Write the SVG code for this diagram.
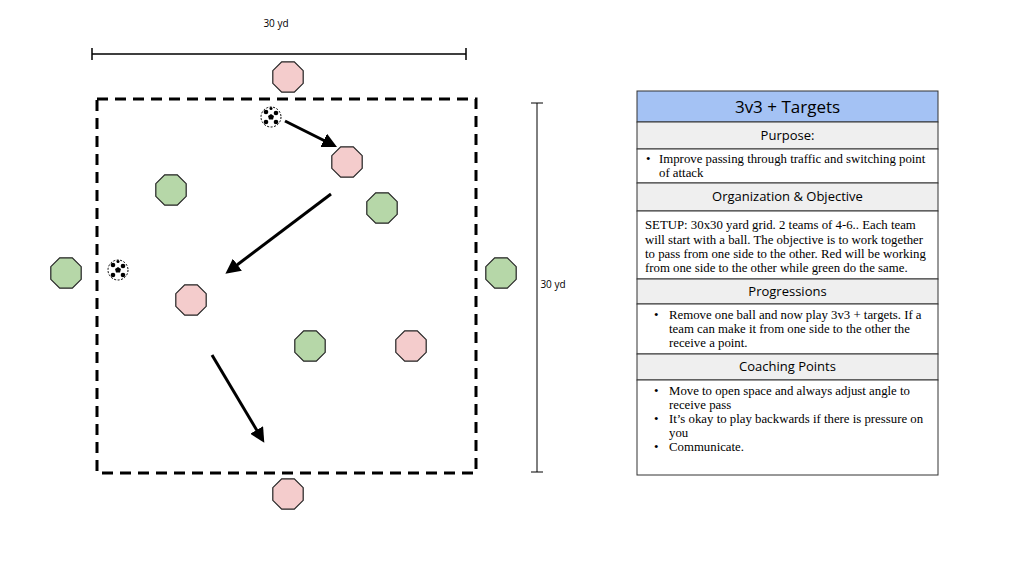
<svg xmlns="http://www.w3.org/2000/svg" xmlns:xlink="http://www.w3.org/1999/xlink" width="1024" height="576" viewBox="0 0 1024 576">
<style>
.r{fill:#f4cccc;stroke:#222;stroke-width:1.2}
.g{fill:#b6d7a8;stroke:#222;stroke-width:1.2}
.s{font-family:"Open Sans","Noto Sans",sans-serif;fill:#000}
.t{font-family:"Liberation Serif",serif;font-size:12.8px;fill:#000}
.h{fill:#efefef;stroke:#333;stroke-width:1}
.c{fill:#fff;stroke:#333;stroke-width:1}
.a{stroke:#000;stroke-width:3;fill:none;marker-end:url(#ah)}
</style>
<defs>
<polygon id="oct" points="-6.3,-15.2 6.3,-15.2 15.2,-6.3 15.2,6.3 6.3,15.2 -6.3,15.2 -15.2,6.3 -15.2,-6.3"/>
<marker id="ah" markerWidth="5" markerHeight="5" refX="3.5" refY="2.5" orient="auto"><path d="M0,0 L5,2.5 L0,5 Z" fill="#000"/></marker>
<g id="ball"><circle r="10" fill="#fff" stroke="#000" stroke-width="1" stroke-dasharray="2,1.5"/><polygon points="0,-3 3,-1 2,2.5 -2,2.5 -3,-1" fill="#000"/><circle cx="-5" cy="-5" r="2.3" fill="#000"/><circle cx="5" cy="-4" r="2.3" fill="#000"/><circle cx="5" cy="5" r="2.3" fill="#000"/><circle cx="-5" cy="5" r="2.3" fill="#000"/><circle cx="0" cy="-8.5" r="1.5" fill="#000"/></g>
</defs>
<rect width="1024" height="576" fill="#fff"/>
<g id="field"><rect x="97" y="99" width="379" height="374" fill="none" stroke="#000" stroke-width="3" stroke-dasharray="11,7"/></g>
<g id="dim-top"><path d="M92,54 H466 M92,48 V60 M466,48 V60" stroke="#000" stroke-width="1.5"/><text class="s" x="276" y="27" font-size="10" text-anchor="middle">30 yd</text></g>
<g id="dim-right"><path d="M537,103 V472 M531,103 H543 M531,472 H543" stroke="#000" stroke-width="1"/><text class="s" x="553" y="288" font-size="10" text-anchor="middle">30 yd</text></g>
<g id="players">
<use href="#oct" class="r" x="288" y="77"/>
<use href="#oct" class="r" x="347" y="162"/>
<use href="#oct" class="g" x="171" y="190"/>
<use href="#oct" class="g" x="382" y="208"/>
<use href="#oct" class="g" x="66" y="273"/>
<use href="#oct" class="g" x="501" y="273"/>
<use href="#oct" class="r" x="191" y="300"/>
<use href="#oct" class="g" x="310" y="346"/>
<use href="#oct" class="r" x="411" y="346"/>
<use href="#oct" class="r" x="288" y="494"/>
</g>
<g id="balls"><use href="#ball" x="271" y="117"/><use href="#ball" x="118" y="270"/></g>
<g id="connectors">
<path class="a" d="M285,121 L333,145"/>
<path class="a" d="M331,194 L229,271"/>
<path class="a" d="M212,355 L262,439"/>
</g>
<g id="panel">
<rect x="637" y="91" width="301" height="31" fill="#a4c2f4" stroke="#333"/>
<text class="s" x="787.5" y="113" font-size="17" text-anchor="middle">3v3 + Targets</text>
<rect class="h" x="637" y="122" width="301" height="27"/>
<text class="s" x="787.5" y="140" font-size="13" text-anchor="middle">Purpose:</text>
<rect class="c" x="637" y="149" width="301" height="34"/>
<text class="t"><tspan x="646" y="163">•</tspan><tspan x="659" y="163">Improve passing through traffic and switching point</tspan><tspan x="659" y="177">of attack</tspan></text>
<rect class="h" x="637" y="183" width="301" height="28"/>
<text class="s" x="787.5" y="201" font-size="13" text-anchor="middle">Organization &amp; Objective</text>
<rect class="c" x="637" y="211" width="301" height="68"/>
<text class="t"><tspan x="645" y="229">SETUP: 30x30 yard grid. 2 teams of 4-6.. Each team</tspan><tspan x="645" y="244">will start with a ball. The objective is to work together</tspan><tspan x="645" y="258">to pass from one side to the other. Red will be working</tspan><tspan x="645" y="272">from one side to the other while green do the same.</tspan></text>
<rect class="h" x="637" y="279" width="301" height="25"/>
<text class="s" x="787.5" y="296" font-size="13" text-anchor="middle">Progressions</text>
<rect class="c" x="637" y="304" width="301" height="50"/>
<text class="t"><tspan x="654" y="319">•</tspan><tspan x="669" y="319">Remove one ball and now play 3v3 + targets. If a</tspan><tspan x="669" y="333">team can make it from one side to the other the</tspan><tspan x="669" y="347">receive a point.</tspan></text>
<rect class="h" x="637" y="354" width="301" height="26"/>
<text class="s" x="787.5" y="371" font-size="13" text-anchor="middle">Coaching Points</text>
<rect class="c" x="637" y="380" width="301" height="95"/>
<text class="t"><tspan x="654" y="395">•</tspan><tspan x="669" y="395">Move to open space and always adjust angle to</tspan><tspan x="669" y="409">receive pass</tspan><tspan x="654" y="423">•</tspan><tspan x="669" y="423">It’s okay to play backwards if there is pressure on</tspan><tspan x="669" y="437">you</tspan><tspan x="654" y="451">•</tspan><tspan x="669" y="451">Communicate.</tspan></text>
</g>
</svg>
